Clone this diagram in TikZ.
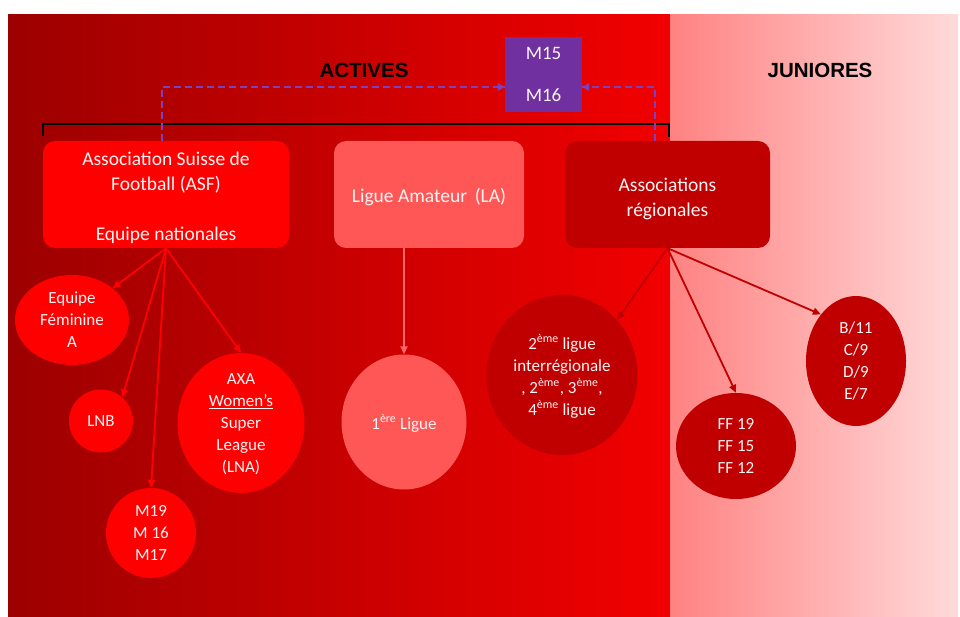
\documentclass[tikz,border=0pt]{standalone}
\usepackage{fontspec}
\setmainfont{Carlito}
\newfontfamily\headfont{Liberation Sans}
\usetikzlibrary{shapes.geometric,arrows.meta}
\definecolor{bgdark}{HTML}{9C0000}
\definecolor{bgred}{HTML}{F20000}
\definecolor{pinkL}{HTML}{FF8282}
\definecolor{pinkR}{HTML}{FFDADA}
\definecolor{redbox}{HTML}{FF0000}
\definecolor{lightbox}{HTML}{FF5656}
\definecolor{darkbox}{HTML}{C00000}
\definecolor{purp}{HTML}{7030A0}
\definecolor{purpline}{HTML}{7A42BC}
\definecolor{txt}{HTML}{FAF4F4}
\tikzset{
  boxnode/.style={rounded corners=12pt, minimum width=246pt, minimum height=107pt, inner sep=0pt},
  boxtext/.style={inner sep=0pt, align=center, text=txt, font=\fontsize{19.5}{25}\selectfont},
  circnode/.style={ellipse, inner sep=0pt, align=center, text=txt, text depth=0pt, font=\fontsize{17}{22}\selectfont},
  headtxt/.style={font=\headfont\bfseries\fontsize{20.5}{24}\selectfont, text=black},
  arr/.style={line width=1.8pt, -{Triangle[length=8pt,width=7pt]}},
  dashline/.style={purpline, line width=1.6pt, dash pattern=on 7pt off 4pt},
}
\begin{document}
\begin{tikzpicture}[x=1pt,y=-1pt]
\useasboundingbox (0,0) rectangle (960,617);
\fill[white] (0,0) rectangle (960,617);
% backgrounds
\shade[left color=bgdark, middle color=bgred, right color=bgred] (8,15) rectangle (670,616);
\shade[left color=pinkL, right color=pinkR] (670,15) rectangle (958,616);
% headings
\node[headtxt] (act) at (364,70) {ACTIVES};
\node[headtxt] (jun) at (820,70) {JUNIORES};
% bracket
\draw[black, line width=2.4pt] (43,136) -- (43,124) -- (669,124) -- (669,137);
% top boxes
\node[boxnode, fill=redbox] (asf) at (166,194.5) {};
\node[boxtext] (asft) at (166,198) {Association Suisse de\\Football (ASF)\\\strut\\Equipe nationales};
\node[boxnode, fill=lightbox, minimum width=190pt] (la) at (429,194.5) {};
\node[boxtext] (lat) at (429,197) {Ligue Amateur\, (LA)};
\node[boxnode, fill=darkbox, minimum width=205pt] (ar) at (667.5,194.5) {};
\node[boxtext] (art) at (667.5,198.5) {Associations\\régionales};
% purple box
\node[fill=purp, minimum width=77pt, minimum height=75pt, inner sep=0pt, align=center, text=txt, font=\fontsize{19}{23}\selectfont] (mm) at (543.5,74.5) {M15\\[19pt]M16};
% dashed connectors
\coordinate (dl) at (162,87);
\coordinate (dr) at (655,87);
\draw[dashline] (asf.north -| dl) -- (dl) -- (mm.west |- dl);
\draw[dashline] (ar.north -| dr) -- (dr) -- (mm.east |- dr);
\fill[purpline] (mm.west |- dl) -- ++(-7,-4) -- ++(0,8) -- cycle;
\fill[purpline] (mm.east |- dr) -- ++(7,-4) -- ++(0,8) -- cycle;
% circles
\node[circnode, fill=redbox, minimum width=114pt, minimum height=90pt] (fem) at (72,320) {Equipe\\Féminine\\A};
\node[circnode, fill=redbox, minimum width=64pt, minimum height=63pt] (lnb) at (101,421) {LNB};
\node[circnode, fill=redbox, minimum width=127pt, minimum height=115pt] (axa) at (241,423) {AXA\\\underline{Women's}\\Super\\League\\(LNA)};
\node[circnode, fill=redbox, minimum width=90pt, minimum height=90pt] (m19) at (151,533) {M19\\M 16\\M17};
\node[circnode, fill=lightbox, minimum width=125pt, minimum height=135pt] (lig1) at (404,422) {1\textsuperscript{ère} Ligue};
\node[circnode, fill=darkbox, minimum width=151pt, minimum height=160pt] (lig2) at (562,375) {2\textsuperscript{ème} ligue\\interrégionale\\, 2\textsuperscript{ème}, 3\textsuperscript{ème},\\4\textsuperscript{ème} ligue};
\node[circnode, fill=darkbox, minimum width=120pt, minimum height=106pt] (ff) at (736,446) {FF 19\\FF 15\\FF 12};
\node[circnode, fill=darkbox, minimum width=100pt, minimum height=130pt] (b11) at (856,361) {B/11\\C/9\\D/9\\E/7};
% arrows
\draw[arr, redbox] (asf.south) -- (fem.38);
\draw[arr, redbox] (asf.south) -- (lnb.48);
\draw[arr, redbox] (asf.south) -- (m19.north);
\draw[arr, redbox] (asf.south) -- (axa.north);
\draw[arr, color=lightbox!90!white] (la.south -| lig1) -- (lig1.north);
\draw[arr, darkbox] (ar.south) -- (lig2.45);
\draw[arr, darkbox] (ar.south) -- (ff.north);
\draw[arr, darkbox] (ar.south) -- (b11.127);
\end{tikzpicture}
\end{document}
